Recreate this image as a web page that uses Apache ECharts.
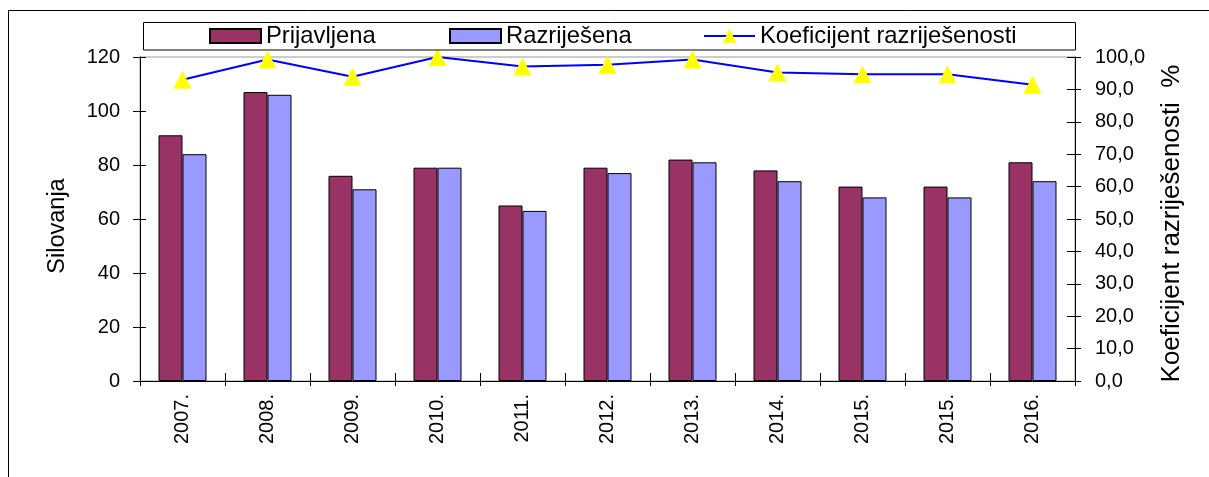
<!DOCTYPE html>
<html>
<head>
<meta charset="utf-8">
<script src="https://cdn.jsdelivr.net/npm/echarts@6/dist/echarts.min.js"></script>
<style>
  html, body { margin: 0; padding: 0; background: #fff; }
  #chart { width: 1209px; height: 477px; }
</style>
</head>
<body>
<div id="chart"></div>
<script>
// Reported and solved rape cases per year, with the clearance rate in percent
const years = ['2007.', '2008.', '2009.', '2010.', '2011.', '2012.', '2013.', '2014.', '2015.', '2015.', '2016.'];
const prijavljena = [91, 107, 76, 79, 65, 79, 82, 78, 72, 72, 81];
const razrijesena = [84, 106, 71, 79, 63, 77, 81, 74, 68, 68, 74];
const koeficijent = [93.0, 99.2, 93.9, 100.0, 97.1, 97.6, 99.2, 95.2, 94.7, 94.7, 91.4];
const leftTicks = { min: 0, max: 120, interval: 20 };
const rightTicks = { min: 0, max: 100, interval: 10 };

const FONT = 'Liberation Sans';
const chart = echarts.init(document.getElementById('chart'), null, { renderer: 'canvas' });

const commaFmt = v => v.toFixed(1).replace('.', ',');

const legendBase = {
  top: 24, padding: 0, itemWidth: 51, itemHeight: 14, z: 12,
  textStyle: { fontFamily: FONT, fontSize: 23.8, color: '#000' },
  selectedMode: false
};

chart.setOption({
  animation: false,
  textStyle: { fontFamily: FONT, color: '#000' },
  grid: {
    left: 140, right: 134, top: 57, bottom: 96,
    show: true, borderColor: '#9a9a9a', borderWidth: 1, backgroundColor: 'transparent'
  },
  graphic: [
    { type: 'rect', z: -10, shape: { x: 8.5, y: 10.5, width: 1300, height: 600 },
      style: { fill: '#fff', stroke: '#000', lineWidth: 1 } },
    { type: 'rect', z: 10, shape: { x: 143.5, y: 22.5, width: 932, height: 27.5 },
      style: { fill: '#fff', stroke: '#000', lineWidth: 1 } }
  ],
  legend: [
    Object.assign({}, legendBase, { left: 209, data: [{ name: 'Prijavljena', icon: 'rect' }] }),
    Object.assign({}, legendBase, { left: 449, data: [{ name: 'Razriješena', icon: 'rect' }] }),
    Object.assign({}, legendBase, { left: 703, itemHeight: 17.5, data: ['Koeficijent razriješenosti'] })
  ],
  xAxis: [
    {
      type: 'category', data: years, position: 'bottom',
      axisLine: { lineStyle: { color: '#000', width: 1 } },
      axisTick: { show: true, length: 5, lineStyle: { color: '#000' } },
      axisLabel: { rotate: 90, margin: 13, fontSize: 20, color: '#000', fontFamily: FONT, interval: 0 }
    },
    {
      type: 'category', data: years, position: 'bottom',
      axisLine: { show: false },
      axisTick: { show: true, inside: true, length: 8, lineStyle: { color: '#000' } },
      axisLabel: { show: false }
    }
  ],
  yAxis: [
    {
      type: 'value', position: 'left', min: leftTicks.min, max: leftTicks.max, interval: leftTicks.interval,
      name: 'Silovanja', nameLocation: 'middle', nameGap: 70, nameRotate: 90,
      nameTextStyle: { fontSize: 23.5, color: '#000', fontFamily: FONT, padding: [0, 14, 0, 0] },
      axisLine: { show: true, lineStyle: { color: '#000', width: 1 } },
      axisTick: { show: true, length: 7, lineStyle: { color: '#000' } },
      axisLabel: { margin: 20, fontSize: 20, color: '#000', fontFamily: FONT },
      splitLine: { show: false }
    },
    {
      type: 'value', position: 'left', min: leftTicks.min, max: leftTicks.max, interval: leftTicks.interval,
      axisLine: { show: false },
      axisTick: { show: true, inside: true, length: 6, lineStyle: { color: '#000' } },
      axisLabel: { show: false }, splitLine: { show: false }
    },
    {
      type: 'value', position: 'right', min: rightTicks.min, max: rightTicks.max, interval: rightTicks.interval,
      name: 'Koeficijent razriješenosti  %', nameLocation: 'middle', nameGap: 84, nameRotate: 90,
      nameTextStyle: { fontSize: 26, color: '#000', fontFamily: FONT, padding: [0, 9, 0, 0] },
      axisLine: { show: true, lineStyle: { color: '#000', width: 1 } },
      axisTick: { show: true, length: 6, lineStyle: { color: '#000' } },
      axisLabel: { margin: 20, fontSize: 20, color: '#000', fontFamily: FONT, formatter: commaFmt },
      splitLine: { show: false }
    },
    {
      type: 'value', position: 'right', min: rightTicks.min, max: rightTicks.max, interval: rightTicks.interval,
      axisLine: { show: false },
      axisTick: { show: true, inside: true, length: 8, lineStyle: { color: '#000' } },
      axisLabel: { show: false }, splitLine: { show: false }
    }
  ],
  series: [
    {
      name: 'Prijavljena', type: 'bar', data: prijavljena, xAxisIndex: 0, yAxisIndex: 0,
      barWidth: 24, barGap: '0%', z: 2,
      itemStyle: { color: '#993366', borderColor: '#000', borderWidth: 1 }
    },
    {
      name: 'Razriješena', type: 'bar', data: razrijesena, xAxisIndex: 0, yAxisIndex: 0,
      barWidth: 24, barGap: '0%', z: 2,
      itemStyle: { color: '#9999ff', borderColor: '#000', borderWidth: 1 }
    },
    {
      name: 'Koeficijent razriješenosti', type: 'line', data: koeficijent, xAxisIndex: 0, yAxisIndex: 2,
      symbol: 'triangle', symbolSize: [18, 18], clip: false, z: 3,
      lineStyle: { color: '#0000ff', width: 2 },
      itemStyle: { color: '#ffff00', borderWidth: 0 }
    }
  ]
});
</script>
</body>
</html>
